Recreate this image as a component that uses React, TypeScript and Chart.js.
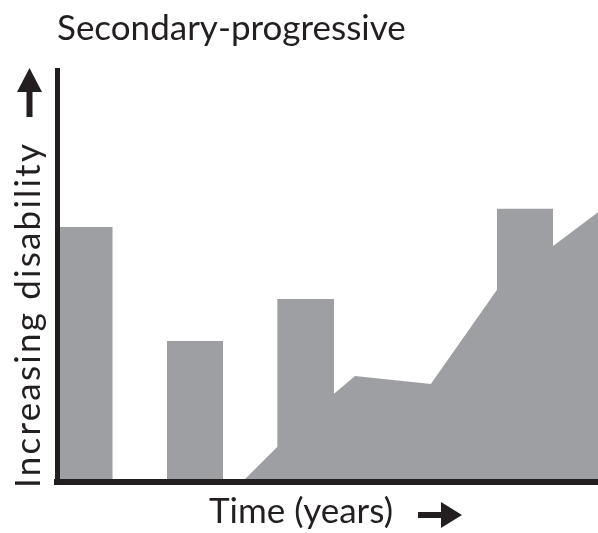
import React, { useEffect, useRef } from "react";
import { Chart, registerables } from "chart.js";

Chart.register(...registerables);

// ---- data (time in years, disability level in arbitrary units) ----
const titleText = "Secondary-progressive";
const xCaption = "Time (years)";
const yCaption = "Increasing disability";

// relapse episodes: start, end and peak disability
const relapseStart = [0, 2.03, 4.07, 8.13];
const relapseEnd = [1.03, 3.07, 5.12, 9.17];
const relapsePeak = [6.19, 3.42, 4.44, 6.63];

// underlying progressive disability course
const progressionYears = [3.42, 4.07, 5.12, 5.51, 6.91, 8.13, 9.17, 10];
const progressionLevel = [0, 0.85, 2.14, 2.57, 2.38, 4.66, 5.73, 6.55];

const timeRange = [0, 10];
const levelRange = [0, 10];

// ---- styles ----
const FILL = "#9e9fa3";
const INK = "#231f20";
const FONT_FAMILY = "Lato, 'Open Sans', sans-serif";

function drawArrow(
  ctx: CanvasRenderingContext2D,
  tipX: number,
  tipY: number,
  dir: "up" | "right",
  length: number,
  shaft: number,
  headW: number,
  headL: number
) {
  ctx.save();
  ctx.translate(tipX, tipY);
  if (dir === "up") ctx.rotate(-Math.PI / 2);
  ctx.beginPath();
  ctx.moveTo(0, 0);
  ctx.lineTo(-headL, -headW / 2);
  ctx.lineTo(-headL, -shaft / 2);
  ctx.lineTo(-length, -shaft / 2);
  ctx.lineTo(-length, shaft / 2);
  ctx.lineTo(-headL, shaft / 2);
  ctx.lineTo(-headL, headW / 2);
  ctx.closePath();
  ctx.fillStyle = INK;
  ctx.fill();
  ctx.restore();
}

const captionPlugin = {
  id: "captions",
  afterDraw(chart: any) {
    const { ctx, chartArea } = chart;
    ctx.save();
    ctx.fillStyle = INK;
    ctx.font = `35px ${FONT_FAMILY}`;
    ctx.textBaseline = "alphabetic";
    ctx.textAlign = "left";

    // x caption + arrow
    ctx.fillText(xCaption, chartArea.left + 152, chartArea.bottom + 41);
    drawArrow(ctx, chartArea.left + 405, chartArea.bottom + 33, "right", 44, 6, 26, 21);

    // y caption (rotated, letter-spaced to span its length)
    const targetLen = 344;
    (ctx as any).letterSpacing = "0px";
    const w = ctx.measureText(yCaption).width;
    const spacing = Math.max(0, (targetLen - w) / (yCaption.length - 1));
    ctx.translate(chartArea.left - 17, chartArea.bottom + 6);
    ctx.rotate(-Math.PI / 2);
    (ctx as any).letterSpacing = `${spacing.toFixed(2)}px`;
    ctx.fillText(yCaption, 0, 0);
    ctx.restore();

    drawArrow(ctx, chartArea.left - 27.5, chartArea.top - 2, "up", 49, 6, 25, 24);
  },
};

export default function App() {
  const canvasRef = useRef<HTMLCanvasElement | null>(null);

  useEffect(() => {
    if (!canvasRef.current) return;

    const relapseSets = relapseStart.map((s, i) => ({
      label: `Relapse ${i + 1}`,
      data: [
        { x: s, y: 0 },
        { x: s, y: relapsePeak[i] },
        { x: relapseEnd[i], y: relapsePeak[i] },
        { x: relapseEnd[i], y: 0 },
      ],
      backgroundColor: FILL,
      borderWidth: 0,
      pointRadius: 0,
      fill: "origin",
      tension: 0,
    }));

    const progressionSet = {
      label: "Progression",
      data: [
        ...progressionYears.map((t, i) => ({ x: t, y: progressionLevel[i] })),
        { x: progressionYears[progressionYears.length - 1], y: 0 },
      ],
      backgroundColor: FILL,
      borderWidth: 0,
      pointRadius: 0,
      fill: "origin",
      tension: 0,
    };

    const chart = new Chart(canvasRef.current, {
      type: "line",
      data: { datasets: [...relapseSets, progressionSet] as any },
      options: {
        animation: false,
        responsive: true,
        maintainAspectRatio: false,
        layout: { padding: { left: 57, right: 0, top: 0, bottom: 51 } },
        plugins: {
          legend: { display: false },
          tooltip: { enabled: false },
          title: {
            display: true,
            text: titleText,
            align: "start",
            fullSize: false,
            color: INK,
            font: { family: FONT_FAMILY, size: 35, weight: "normal", lineHeight: 1.2 },
            padding: { top: 8, bottom: 20 },
          },
        },
        scales: {
          x: {
            type: "linear",
            min: timeRange[0],
            max: timeRange[1],
            ticks: { display: false },
            grid: { display: false, drawTicks: false },
            border: { display: true, width: 6, color: INK, z: 1 },
          },
          y: {
            type: "linear",
            min: levelRange[0],
            max: levelRange[1],
            ticks: { display: false },
            grid: { display: false, drawTicks: false },
            border: { display: true, width: 5, color: INK, z: 1 },
          },
        },
      },
      plugins: [captionPlugin],
    });

    return () => chart.destroy();
  }, []);

  return (
    <div style={{ position: "absolute", left: 0, top: 0, width: 598, height: 533, background: "#fff" }}>
      <canvas ref={canvasRef} />
    </div>
  );
}
